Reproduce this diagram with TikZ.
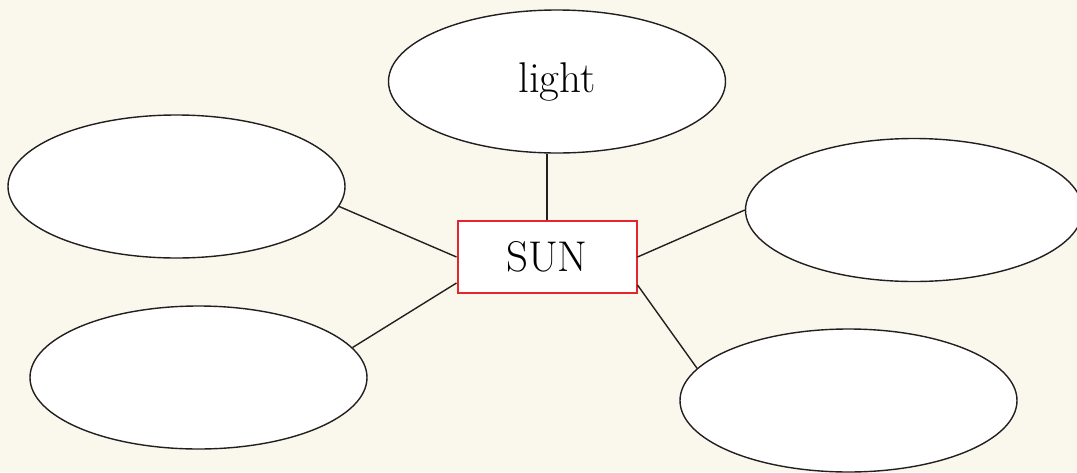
\documentclass[tikz,border=0pt]{standalone}
\usetikzlibrary{shapes.geometric,calc}
\definecolor{cream}{HTML}{FAF8EC}
\definecolor{sunred}{HTML}{E42530}
\definecolor{ink}{HTML}{231F20}
\begin{document}
\begin{tikzpicture}[x=1pt,y=-1pt,
  bubble/.style={ellipse,draw=ink,fill=white,line width=1.4pt,minimum width=337pt,minimum height=143pt,inner sep=0pt,font=\fontsize{43}{50}\selectfont},
  sunbox/.style={rectangle,draw=sunred,fill=white,line width=2pt,minimum width=179pt,minimum height=72pt,inner sep=0pt,font=\fontsize{43}{50}\selectfont},
  link/.style={draw=ink,line width=1.4pt}]
\useasboundingbox (0,0) rectangle (1077,472);
\fill[cream] (0,0) rectangle (1077,472);
\node[sunbox] (sun) at (547,257) {SUN};
\node[bubble] (light) at (557,81.5) {light};
\node[bubble] (lu) at (176.5,186.5) {};
\node[bubble] (ll) at (198.5,377.5) {};
\node[bubble] (ru) at (914,210) {};
\node[bubble] (rl) at (848.5,400.5) {};
\coordinate (sunll) at ($(sun.south west)+(0,-11)$);
\coordinate (sunrl) at ($(sun.south east)+(0,-9)$);
\draw[link,line width=2pt] (sun.north) -- (sun.north |- light.south);
\draw[link] (sun.west) -- (lu.-7);
\draw[link] (sunll) -- (ll.11);
\draw[link] (sun.east) -- (ru.west);
\draw[link] (sunrl) -- (rl.168.5);
\end{tikzpicture}
\end{document}
